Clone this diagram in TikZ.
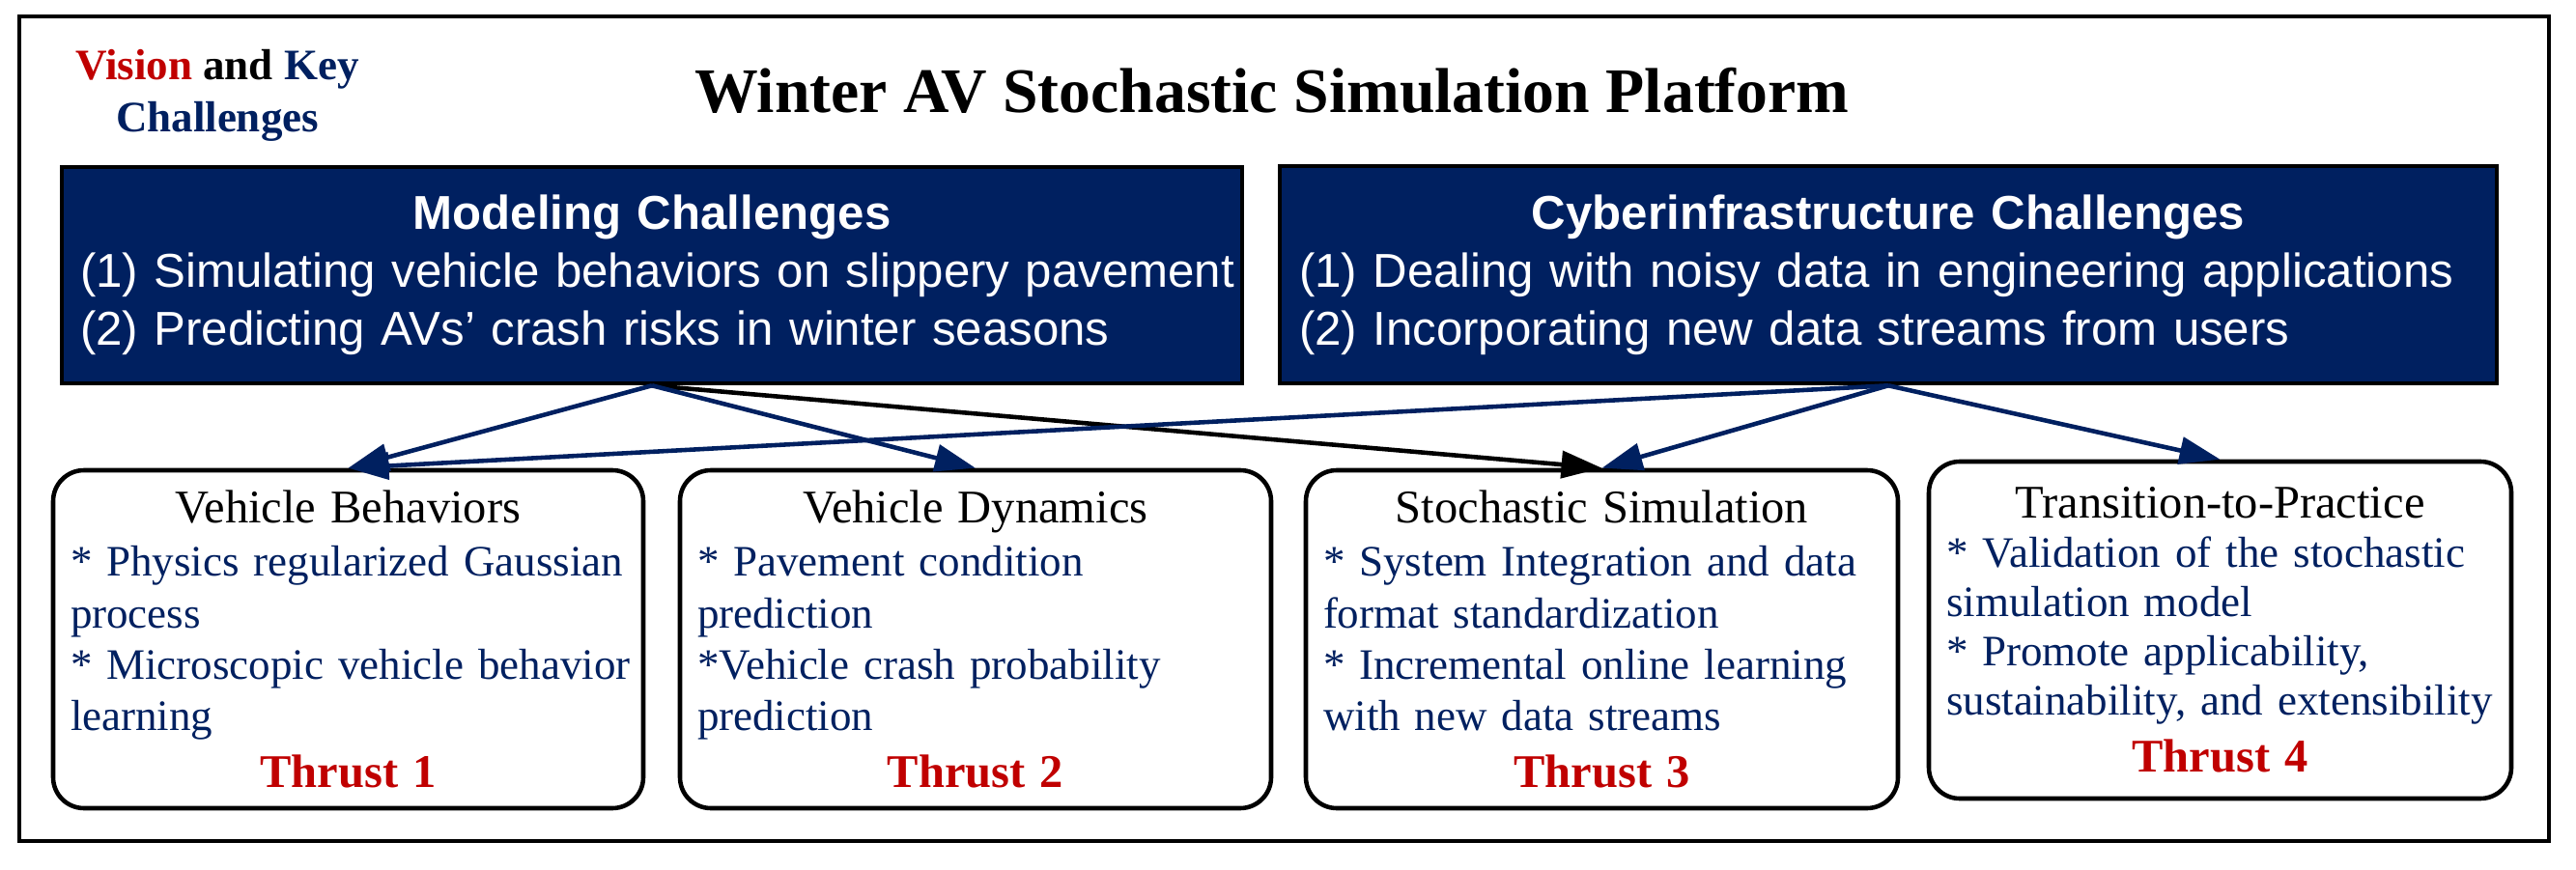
\documentclass[tikz,border=0pt]{standalone}
\usepackage{fontspec}
\setmainfont{Liberation Serif}
\newfontfamily\arialfont{Liberation Sans}
\usepackage{tikz}
\usetikzlibrary{arrows.meta}
\definecolor{navy}{RGB}{0,32,96}
\definecolor{thrustred}{RGB}{192,0,0}

\begin{document}
\begin{tikzpicture}[
    darkbox/.style={draw=black,line width=1.3pt,fill=navy,text=white,inner sep=0pt,
        align=left,font=\arialfont\fontsize{14}{17.1}\selectfont},
    thrustbox/.style={draw=black,line width=1.3pt,rounded corners=0.32cm,fill=white,
        text=navy,inner sep=0pt,minimum height=3.5cm,align=left,
        font=\fontsize{12.8}{15.1}\selectfont},
    link/.style={-{Triangle[length=0.42cm,width=0.28cm]},line width=1.3pt,draw=navy}
]
    \useasboundingbox (0,0) rectangle (26.67,9);

    % cornice
    \draw[line width=1.1pt] (0.20,0.29) rectangle (26.39,8.83);

    % titoli
    \node[font=\bfseries\fontsize{18.7}{22}\selectfont,anchor=base] (title) at (13.17,7.83)
        {Winter AV Stochastic Simulation Platform};
    \node[font=\bfseries\fontsize{12.8}{15.4}\selectfont,align=center,anchor=base] (vision) at (2.25,7.63)
        {\textcolor{thrustred}{Vision} and \textcolor{navy}{Key}\\ \textcolor{navy}{Challenges}};

    % sfide
    \node[darkbox,minimum width=12.22cm,minimum height=2.24cm,text width=11.84cm] (model) at (6.75,6.15)
        {\makebox[\linewidth]{\bfseries Modeling Challenges}\\
         \mbox{(1) Simulating vehicle behaviors on slippery pavement}\\
         (2) Predicting AVs’ crash risks in winter seasons};
    \node[darkbox,minimum width=12.60cm,minimum height=2.25cm,text width=12.20cm] (cyber) at (19.55,6.155)
        {\makebox[\linewidth]{\bfseries Cyberinfrastructure Challenges}\\
         (1) Dealing with noisy data in engineering applications\\
         (2) Incorporating new data streams from users};

    % thrust
    \node[thrustbox,minimum width=6.11cm,text width=5.75cm] (behav) at (3.605,2.38)
        {\makebox[\linewidth]{\fontsize{13.8}{15.1}\selectfont\color{black}Vehicle Behaviors}\\[0.6pt]
         \mbox{{*} Physics regularized Gaussian}\\ process\\
         \mbox{{*} Microscopic vehicle behavior}\\ learning\\[1.7pt]
         \makebox[\linewidth]{\fontsize{13.8}{15.1}\selectfont\bfseries\color{thrustred}Thrust 1}};
    \node[thrustbox,minimum width=6.12cm,text width=5.76cm] (dyn) at (10.10,2.38)
        {\makebox[\linewidth]{\fontsize{13.8}{15.1}\selectfont\color{black}Vehicle Dynamics}\\[0.6pt]
         {*} Pavement condition\\ prediction\\
         {*}Vehicle crash probability\\ prediction\\[1.7pt]
         \makebox[\linewidth]{\fontsize{13.8}{15.1}\selectfont\bfseries\color{thrustred}Thrust 2}};
    \node[thrustbox,minimum width=6.13cm,text width=5.77cm] (stoch) at (16.585,2.38)
        {\makebox[\linewidth]{\fontsize{13.8}{15.1}\selectfont\color{black}Stochastic Simulation}\\[0.6pt]
         \mbox{{*} System Integration and data}\\ format standardization\\
         \mbox{{*} Incremental online learning}\\ with new data streams\\[1.7pt]
         \makebox[\linewidth]{\fontsize{13.8}{15.1}\selectfont\bfseries\color{thrustred}Thrust 3}};
    \node[thrustbox,minimum width=6.03cm,minimum height=3.49cm,text width=5.67cm,
          font=\fontsize{12.8}{14.5}\selectfont] (trans) at (22.985,2.475)
        {\makebox[\linewidth]{\fontsize{13.8}{14.5}\selectfont\color{black}Transition-to-Practice}\\
         {*} Validation of the stochastic\\ simulation model\\
         {*} Promote applicability,\\ \mbox{sustainability, and extensibility}\\[2.3pt]
         \makebox[\linewidth]{\fontsize{13.8}{14.5}\selectfont\bfseries\color{thrustred}Thrust 4}};

    % frecce
    \draw[link,draw=black] (model.south) -- (stoch.north);
    \draw[link] (model.south) -- (behav.north);
    \draw[link] (model.south) -- (dyn.north);
    \draw[link] (cyber.south) -- (behav.north);
    \draw[link] (cyber.south) -- (stoch.north);
    \draw[link] (cyber.south) -- (trans.north);
\end{tikzpicture}
\end{document}
